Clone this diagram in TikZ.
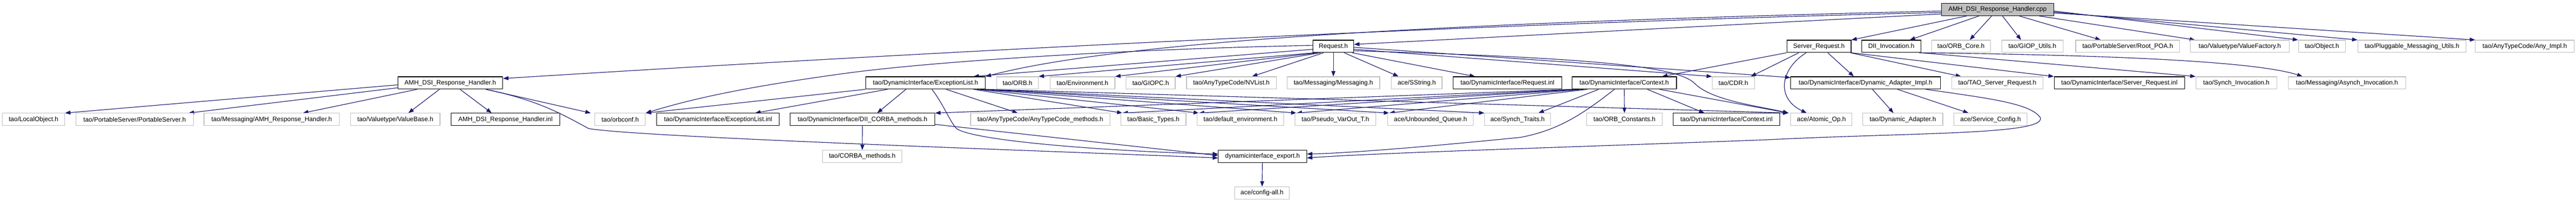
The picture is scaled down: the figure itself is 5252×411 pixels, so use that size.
\documentclass[tikz,border=0pt]{standalone}
\usepackage{fontspec}
\setmainfont{Liberation Sans}
\usetikzlibrary{arrows.meta,calc}
\definecolor{edgec}{HTML}{191970}
\definecolor{grayb}{HTML}{BFBFBF}
\pgfdeclarelayer{bg}
\pgfsetlayers{bg,main}
\begin{document}
\begin{tikzpicture}[x=1pt,y=-1pt,
  nb/.style={draw=black, line width=1.2pt, fill=white, minimum height=25pt, inner sep=0pt, font=\fontsize{13}{15}\selectfont, text=black, anchor=center},
  ng/.style={nb, draw=grayb},
  nroot/.style={nb, fill=grayb},
  dep/.style={draw=edgec, line width=1.2pt, -{Triangle[length=11pt,width=8pt]}}]
\useasboundingbox (0,0) rectangle (5252,411);
% row 1
\node[nroot, minimum width=229pt] (root) at (4072.5,19.5) {AMH\_DSI\_Response\_Handler.cpp};
% row 2
\node[nb, minimum width=83pt] (req) at (2718.5,94.5) {Request.h};
\node[nb, minimum width=131pt] (sreq) at (3708.5,94.5) {Server\_Request.h};
\node[nb, minimum width=120pt] (dii) at (3856,94.5) {DII\_Invocation.h};
\node[ng, minimum width=120pt] (orbcore) at (3998,94.5) {tao/ORB\_Core.h};
\node[ng, minimum width=125pt] (giop) at (4143.5,94.5) {tao/GIOP\_Utils.h};
\node[ng, minimum width=212pt] (rootpoa) at (4338,94.5) {tao/PortableServer/Root\_POA.h};
\node[ng, minimum width=201pt] (vf) at (4566.5,94.5) {tao/Valuetype/ValueFactory.h};
\node[ng, minimum width=96pt] (obj) at (4734,94.5) {tao/Object.h};
\node[ng, minimum width=221pt] (pmu) at (4917.5,94.5) {tao/Pluggable\_Messaging\_Utils.h};
\node[ng, minimum width=201pt] (anyimpl) at (5147.5,94.5) {tao/AnyTypeCode/Any\_Impl.h};
% row 3
\node[nb, minimum width=214pt] (amhh) at (918,169) {AMH\_DSI\_Response\_Handler.h};
\node[nb, minimum width=244pt] (exl) at (1887,169) {tao/DynamicInterface/ExceptionList.h};
\node[ng, minimum width=85pt] (orb) at (2074.5,169) {tao/ORB.h};
\node[ng, minimum width=132pt] (env) at (2207,169) {tao/Environment.h};
\node[ng, minimum width=100pt] (giopc) at (2346,169) {tao/GIOPC.h};
\node[ng, minimum width=183pt] (nvl) at (2510.5,169) {tao/AnyTypeCode/NVList.h};
\node[ng, minimum width=189pt] (msg) at (2718.5,169) {tao/Messaging/Messaging.h};
\node[ng, minimum width=103pt] (sstr) at (2888.5,169) {ace/SString.h};
\node[nb, minimum width=221pt] (reqinl) at (3073.5,169) {tao/DynamicInterface/Request.inl};
\node[nb, minimum width=213pt] (ctx) at (3311.5,169) {tao/DynamicInterface/Context.h};
\node[ng, minimum width=86pt] (cdr) at (3534,169) {tao/CDR.h};
\node[nb, minimum width=305pt] (dai) at (3803.5,169) {tao/DynamicInterface/Dynamic\_Adapter\_Impl.h};
\node[ng, minimum width=186pt] (tsr) at (4072,169) {tao/TAO\_Server\_Request.h};
\node[nb, minimum width=266pt] (srinl) at (4321,169) {tao/DynamicInterface/Server\_Request.inl};
\node[ng, minimum width=165pt] (synch) at (4559.5,169) {tao/Synch\_Invocation.h};
\node[ng, minimum width=240pt] (asynch) at (4785,169) {tao/Messaging/Asynch\_Invocation.h};
% row 4
\node[ng, minimum width=127pt] (lo) at (68.5,243.5) {tao/LocalObject.h};
\node[ng, minimum width=239pt] (ps) at (274.5,243.5) {tao/PortableServer/PortableServer.h};
\node[ng, minimum width=276pt] (amhrh) at (554,243.5) {tao/Messaging/AMH\_Response\_Handler.h};
\node[ng, minimum width=182pt] (vb) at (806,243.5) {tao/Valuetype/ValueBase.h};
\node[nb, minimum width=221pt] (amhinl) at (1030.5,243.5) {AMH\_DSI\_Response\_Handler.inl};
\node[ng, minimum width=103pt] (orbconf) at (1264.5,243.5) {tao/orbconf.h};
\node[nb, minimum width=250pt] (exlinl) at (1464,243.5) {tao/DynamicInterface/ExceptionList.inl};
\node[nb, minimum width=295pt] (diicm) at (1758.5,243.5) {tao/DynamicInterface/DII\_CORBA\_methods.h};
\node[ng, minimum width=284pt] (atcm) at (2121,243.5) {tao/AnyTypeCode/AnyTypeCode\_methods.h};
\node[ng, minimum width=133pt] (bt) at (2351.5,243.5) {tao/Basic\_Types.h};
\node[ng, minimum width=176pt] (defenv) at (2529,243.5) {tao/default\_environment.h};
\node[ng, minimum width=165pt] (pvo) at (2722.5,243.5) {tao/Pseudo\_VarOut\_T.h};
\node[ng, minimum width=175pt] (uq) at (2916.5,243.5) {ace/Unbounded\_Queue.h};
\node[ng, minimum width=134pt] (st) at (3094,243.5) {ace/Synch\_Traits.h};
\node[ng, minimum width=154pt] (orbc) at (3312,243.5) {tao/ORB\_Constants.h};
\node[nb, minimum width=218pt] (ctxinl) at (3520,243.5) {tao/DynamicInterface/Context.inl};
\node[ng, minimum width=125pt] (aop) at (3713.5,243.5) {ace/Atomic\_Op.h};
\node[ng, minimum width=163pt] (da) at (3879.5,243.5) {tao/Dynamic\_Adapter.h};
\node[ng, minimum width=149pt] (sc) at (4058.5,243.5) {ace/Service\_Config.h};
% row 5, 6
\node[ng, minimum width=162pt] (corbam) at (1758,319) {tao/CORBA\_methods.h};
\node[nb, minimum width=180pt] (export) at (2574,319) {dynamicinterface\_export.h};
\node[ng, minimum width=112pt] (cfg) at (2573,393.5) {ace/config-all.h};

\begin{pgfonlayer}{bg}
\fill[white] (0,0) rectangle (5252,411);
% root
\draw[dep] ($(root.west)+(0,6)$) .. controls (2900,50) and (1700,118) .. ($(amhh.east)+(0,-9)$);
\draw[dep] ($(root.west)+(0,3)$) .. controls (3000,45) and (2300,80) .. (exl.north east);
\draw[dep] ($(root.west)+(0,9)$) -- ($(req.east)+(0,-4)$);
\draw[dep] (root) -- (sreq.north east);
\draw[dep] (root) -- ($(dii.north east)+(-23,0)$);
\draw[dep] (root) -- ($(orbcore.north)+(18,0)$);
\draw[dep] (root) -- ($(giop.north)+(-23,0)$);
\draw[dep] (root) -- ($(rootpoa.north)+(-55,0)$);
\draw[dep] (root) -- ($(vf.north west)+(10,0)$);
\draw[dep] ($(root.east)+(0,3)$) -- (obj.north west);
\draw[dep] ($(root.east)+(0,5)$) -- (pmu.north west);
\draw[dep] ($(root.east)+(0,7)$) -- (anyimpl.north west);
% Request.h
\draw[dep] ($(req.west)+(0,6)$) -- ($(exl.north east)+(-25,0)$);
\draw[dep] ($(req.south west)+(4,0)$) -- (orb.north east);
\draw[dep] ($(req.south west)+(10,0)$) -- (env.north east);
\draw[dep] ($(req.south west)+(16,0)$) -- (giopc.north east);
\draw[dep] ($(req.south west)+(22,0)$) -- ($(nvl.north east)+(-50,0)$);
\draw[dep] (req.south) -- (msg.north);
\draw[dep] ($(req.south east)+(-20,0)$) -- ($(sstr.north west)+(15,0)$);
\draw[dep] ($(req.south east)+(-4,0)$) -- ($(reqinl.north west)+(45,0)$);
\draw[dep] ($(req.east)+(0,6)$) -- (cdr.north west);
\draw[dep] ($(req.east)+(0,2)$) -- ($(dai.west)+(0,-11)$);
\draw[dep] ($(req.east)+(0,9)$) .. controls (3250,118) and (3420,135) .. (3455,170) .. controls (3490,205) and (3580,215) .. ($(aop.north west)+(-4,0)$);
\draw[dep] ($(req.west)+(0,-2)$) .. controls (2300,100) and (1900,125) .. (1720,150) .. controls (1500,180) and (1400,205) .. (orbconf.north east);
% ExceptionList.h
\draw[dep] (exl.south west) -- (orbconf.north east);
\draw[dep] ($(exl.south west)+(45,0)$) -- ($(exlinl.north east)+(-50,0)$);
\draw[dep] ($(exl.south)+(-40,0)$) -- ($(diicm.north)+(30,0)$);
\draw[dep] ($(exl.south)+(42,0)$) -- ($(atcm.north)+(-46,0)$);
\draw[dep] ($(exl.south east)+(-25,0)$) -- ($(bt.north west)+(4,0)$);
\draw[dep] ($(exl.south east)+(-18,0)$) -- ($(defenv.north west)+(4,0)$);
\draw[dep] ($(exl.south east)+(-12,0)$) -- ($(pvo.north west)+(4,0)$);
\draw[dep] ($(exl.south east)+(-6,0)$) -- ($(uq.north west)+(4,0)$);
\draw[dep] ($(exl.south east)+(-3,0)$) -- (st.north west);
\draw[dep] (exl.south east) -- ($(aop.north west)+(-4,0)$);
\draw[dep] ($(exl.south)+(13,0)$) .. controls (1925,215) and (1935,245) .. (1950,262) .. controls (1990,290) and (2300,310) .. ($(export.west)+(0,-5)$);
% DII_CORBA_methods.h, export
\draw[dep] ($(diicm.south east)+(0,-3)$) -- ($(export.west)+(0,-2)$);
\draw[dep] (diicm) -- (corbam);
\draw[dep] (export) -- (cfg);
% AMH_DSI_Response_Handler.h
\draw[dep] ($(amhh.west)+(0,4)$) -- (lo.north east);
\draw[dep] ($(amhh.west)+(0,10)$) -- ($(ps.north east)+(-10,0)$);
\draw[dep] ($(amhh.south west)+(40,0)$) -- ($(amhrh.north east)+(-75,0)$);
\draw[dep] ($(amhh.south)+(-22,0)$) -- ($(vb.north east)+(-65,0)$);
\draw[dep] ($(amhh.south)+(20,0)$) -- ($(amhinl.north west)+(83,0)$);
\draw[dep] ($(amhh.south east)+(-35,0)$) -- ($(orbconf.north west)+(-8,0)$);
\draw[dep] ($(amhh.south east)+(-35,0)$) .. controls (1100,205) and (1150,235) .. (1200,262) .. controls (1300,280) and (2200,310) .. ($(export.west)+(0,3)$);
% Context.h
\draw[dep] (ctx.south west) -- (diicm.north east);
\draw[dep] ($(ctx.south west)+(8,0)$) -- ($(bt.north west)+(4,0)$);
\draw[dep] ($(ctx.south west)+(16,0)$) -- ($(defenv.north west)+(4,0)$);
\draw[dep] ($(ctx.south west)+(24,0)$) -- ($(pvo.north west)+(4,0)$);
\draw[dep] ($(ctx.south west)+(32,0)$) -- ($(uq.north west)+(4,0)$);
\draw[dep] ($(ctx.south west)+(55,0)$) -- ($(st.north east)+(-25,0)$);
\draw[dep] (ctx) -- (orbc);
\draw[dep] ($(ctx.south east)+(-60,0)$) -- ($(ctxinl.north)+(-45,0)$);
\draw[dep] ($(ctx.south east)+(-35,0)$) -- ($(aop.north west)+(-4,0)$);
\draw[dep] ($(ctx.south)+(-20,0)$) .. controls (3230,230) and (3180,265) .. (3100,280) .. controls (2900,300) and (2750,312) .. ($(export.east)+(0,-5)$);
% Server_Request.h
\draw[dep] (sreq.south west) -- ($(ctx.north east)+(-30,0)$);
\draw[dep] ($(sreq.south west)+(25,0)$) -- ($(cdr.north east)+(-8,0)$);
\draw[dep] ($(sreq.south west)+(40,0)$) .. controls (3630,140) and (3620,200) .. ($(aop.north)+(-30,0)$);
\draw[dep] ($(sreq.south)+(18,0)$) -- ($(dai.north)+(-24,0)$);
\draw[dep] ($(sreq.south east)+(-2,0)$) -- ($(tsr.north west)+(20,0)$);
\draw[dep] (sreq.south east) -- (srinl.north west);
% DII_Invocation.h
\draw[dep] (dii.south east) -- (synch.north west);
\draw[dep] ($(dii.south east)+(-4,0)$) .. controls (4300,112) and (4600,125) .. ($(asynch.north west)+(30,0)$);
% Dynamic_Adapter_Impl.h
\draw[dep] ($(dai.south)+(14,0)$) -- ($(da.north)+(-19,0)$);
\draw[dep] ($(dai.south)+(65,0)$) -- ($(sc.north)+(-45,0)$);
\draw[dep] ($(dai.south east)+(-30,0)$) .. controls (4050,200) and (4140,210) .. (4160,240) .. controls (4170,275) and (3900,270) .. (3600,285) .. controls (3200,300) and (2800,312) .. ($(export.east)+(0,3)$);
\end{pgfonlayer}
\end{tikzpicture}
\end{document}
